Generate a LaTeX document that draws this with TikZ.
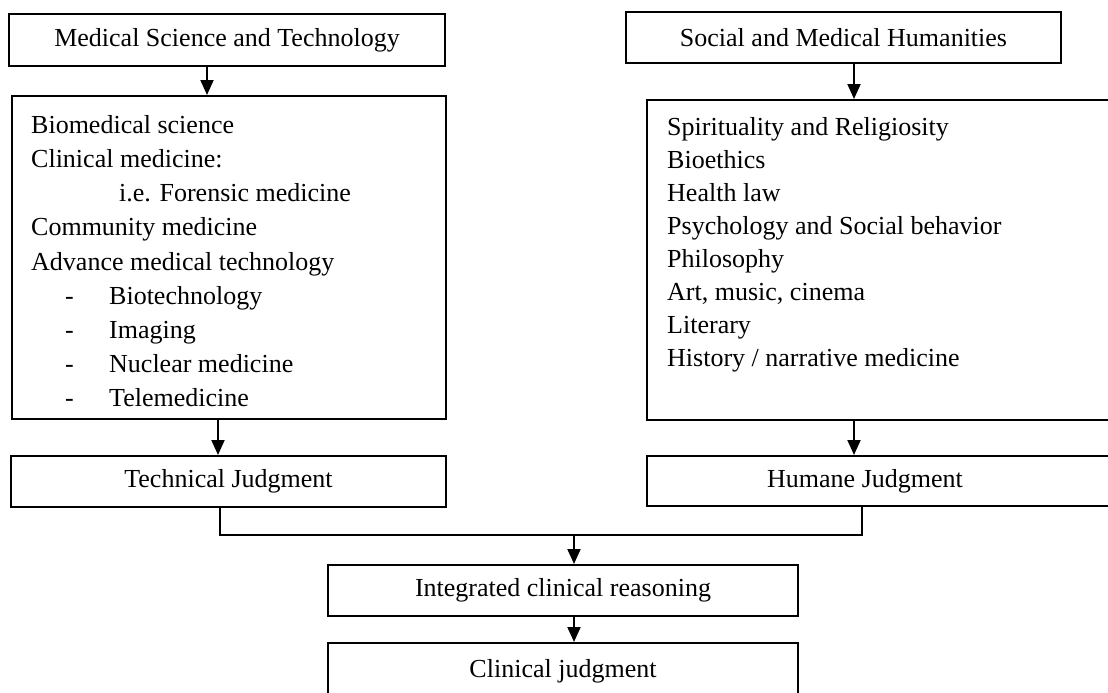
\documentclass[tikz,border=0pt]{standalone}
\usepackage{fontspec}
\setmainfont{Liberation Serif}
\usepackage{tikz}
\usetikzlibrary{arrows.meta, calc}

\tikzset{
  box/.style={draw, line width=2pt, inner sep=0pt, align=center},
  arr/.style={line width=2pt, -{Triangle[length=15pt,width=13pt]}},
  link/.style={line width=2pt},
  listtext/.style={inner sep=0pt, anchor=north west, align=left}
}
\newcommand{\techitem}[1]{\hspace*{34pt}\makebox[44pt][l]{-}#1}

\begin{document}
\begin{tikzpicture}[x=1pt, y=-1pt, font=\fontsize{26}{33.5}\selectfont]
    \useasboundingbox (0,0) rectangle (1108,693);
    \clip (0,0) rectangle (1108,693);

    % left column
    \node[box, minimum width=436pt, minimum height=52pt] (mst) at (227,40) {Medical Science and Technology};
    \node[box, minimum width=434pt, minimum height=323pt] (sciBox) at (229,257.5) {};
    \node[listtext, font=\fontsize{26}{34.2}\selectfont] (sciList) at (31,115) {Biomedical science\\
        Clinical medicine:\\
        \hspace*{88pt}i.e. Forensic medicine\\
        Community medicine\\
        Advance medical technology\\
        \techitem{Biotechnology}\\
        \techitem{Imaging}\\
        \techitem{Nuclear medicine}\\
        \techitem{Telemedicine}};
    \node[box, minimum width=435pt, minimum height=51pt] (tech) at (228.5,481.5) {Technical Judgment};

    % right column
    \node[box, minimum width=435pt, minimum height=51pt] (smh) at (843.5,37.5) {Social and Medical Humanities};
    \node[box, minimum width=483pt, minimum height=320pt] (humBox) at (888.5,260) {};
    \node[listtext, font=\fontsize{26}{33}\selectfont] (humList) at (667,117) {Spirituality and Religiosity\\
        Bioethics\\
        Health law\\
        Psychology and Social behavior\\
        Philosophy\\
        Art, music, cinema\\
        Literary\\
        History / narrative medicine};
    \node[box, minimum width=483pt, minimum height=50pt] (humane) at (888.5,481) {Humane Judgment\hspace*{47pt}};

    % bottom
    \node[box, minimum width=470pt, minimum height=51pt] (integ) at (563,590.5) {Integrated clinical reasoning};
    \node[box, minimum width=470pt, minimum height=57pt] (clin) at (563,671.5) {Clinical judgment};
    \coordinate (joint) at (574,535);

    \draw[arr] (mst.south -| 207,0) -- (sciBox.north -| 207,0);
    \draw[arr] (sciBox.south -| 218,0) -- (tech.north -| 218,0);
    \draw[arr] (smh.south -| 854,0) -- (humBox.north -| 854,0);
    \draw[arr] (humBox.south -| 854,0) -- (humane.north -| 854,0);
    \draw[link] (tech.south -| 220,0) |- (joint) -| (humane.south -| 862,0);
    \draw[arr] (joint) -- (integ.north -| joint);
    \draw[arr] (integ.south -| joint) -- (clin.north -| joint);

\end{tikzpicture}
\end{document}
